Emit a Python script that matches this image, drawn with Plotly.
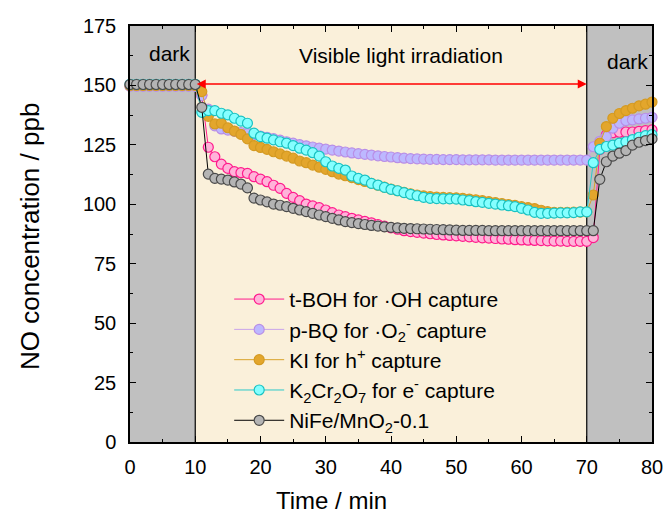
import plotly.graph_objects as go

time_min = list(range(0, 81))

tboh = [150.2]*11 + [
    146.0, 124.0, 120.0, 116.9, 115.1, 113.7, 113.3, 113.0, 111.6, 110.6,
    109.5, 108.0, 106.7, 104.6, 102.9, 101.5, 100.1, 99.3, 98.6, 97.6,
    96.5, 95.5, 94.8, 94.1, 93.4, 92.8, 92.2, 91.5, 90.8, 90.1,
    89.5, 88.9, 88.5, 88.2, 87.9, 87.6, 87.3, 87.1, 86.9, 86.7,
    86.5, 86.3, 86.1, 85.9, 85.8, 85.6, 85.4, 85.3, 85.1, 85.0,
    84.9, 84.8, 84.7, 84.6, 84.5, 84.5, 84.4, 84.4, 84.4, 84.4,
    86.0, 123.0, 129.2, 130.1, 130.3, 130.4, 130.4, 130.7, 131.0, 131.3]

pbq = [149.6]*11 + [
    145.7, 140.0, 133.0, 131.7, 131.2, 130.7, 130.2, 129.7, 129.2, 128.7,
    128.2, 127.6, 127.0, 126.3, 125.7, 125.1, 124.6, 124.1, 123.6, 123.2,
    122.8, 122.4, 122.0, 121.6, 121.3, 121.0, 120.7, 120.4, 120.1, 119.9,
    119.6, 119.4, 119.2, 119.1, 119.0, 118.9, 118.9, 118.8, 118.8, 118.8,
    118.7, 118.7, 118.7, 118.7, 118.7, 118.6, 118.6, 118.6, 118.6, 118.6,
    118.6, 118.6, 118.6, 118.6, 118.6, 118.6, 118.6, 118.6, 118.6, 118.6,
    124.2, 126.5, 128.5, 132.0, 134.1, 135.2, 135.5, 135.9, 136.2, 136.6]

ki = [150.0]*11 + [
    147.4, 137.0, 133.8, 134.1, 132.2, 130.8, 129.4, 127.5, 124.7, 123.9,
    123.1, 122.1, 121.2, 120.3, 119.4, 118.2, 117.5, 116.5, 115.6, 114.7,
    113.7, 112.7, 112.0, 111.2, 110.4, 109.6, 108.8, 108.0, 107.2, 106.4,
    105.7, 105.0, 104.4, 103.9, 103.5, 103.2, 103.0, 102.9, 102.8, 102.7,
    102.5, 102.2, 101.9, 101.5, 101.1, 100.7, 100.3, 99.9, 99.5, 99.0,
    98.6, 98.2, 97.5, 96.9, 96.6, 96.6, 96.6, 96.7, 96.7, 96.8,
    103.9, 125.7, 132.7, 136.2, 138.2, 139.4, 140.4, 141.4, 142.1, 143.0]

k2cr2o7 = [150.5]*11 + [
    138.7, 139.4, 139.4, 138.3, 137.6, 136.2, 135.0, 134.1, 129.9, 128.5,
    127.8, 127.1, 126.3, 125.7, 124.7, 123.6, 122.8, 121.7, 120.3, 117.9,
    116.1, 115.1, 114.4, 111.9, 110.9, 110.2, 108.8, 108.1, 107.1, 106.3,
    105.7, 104.9, 104.2, 103.6, 102.9, 102.5, 102.4, 102.3, 102.3, 102.2,
    101.8, 101.5, 101.1, 100.8, 100.4, 100.1, 99.7, 99.4, 99.0, 98.3,
    97.6, 96.6, 96.2, 96.2, 96.3, 96.4, 96.4, 96.5, 96.8, 96.8,
    117.5, 123.1, 124.3, 124.9, 125.7, 126.3, 127.2, 128.2, 128.9, 129.3]

nife = [150.4]*11 + [
    140.8, 112.7, 110.9, 110.6, 110.2, 109.4, 108.5, 106.9, 102.6, 101.8,
    101.0, 100.1, 99.6, 99.0, 98.3, 97.6, 96.9, 96.2, 95.5, 94.8,
    94.1, 93.4, 92.7, 92.3, 91.9, 91.5, 91.1, 90.8, 90.5, 90.3,
    90.1, 89.9, 89.8, 89.7, 89.6, 89.5, 89.4, 89.3, 89.2, 89.1,
    89.0, 89.0, 89.0, 89.0, 88.9, 88.9, 88.9, 88.9, 88.9, 88.9,
    88.9, 88.9, 88.9, 88.9, 88.9, 88.9, 88.9, 88.9, 88.9, 88.9,
    88.9, 110.5, 117.9, 120.3, 121.5, 122.6, 124.9, 126.1, 126.8, 127.5]

series_names = [
    "t-BOH for ·OH capture",
    "p-BQ for ·O<sub>2</sub><sup>-</sup> capture",
    "KI for h<sup>+</sup> capture",
    "K<sub>2</sub>Cr<sub>2</sub>O<sub>7</sub> for e<sup>-</sup> capture",
    "NiFe/MnO<sub>2</sub>-0.1",
]
series_values = [tboh, pbq, ki, k2cr2o7, nife]
fill_colors = ["#FFB3D9", "#BDB8FF", "#E3A62C", "#85FFFF", "#B4B4B4"]
edge_colors = ["#FF1A8C", "#B98EE6", "#D49A22", "#19C2C2", "#4A4A4A"]
line_colors = ["#FF1A8C", "#C9A3EA", "#D9A22A", "#2CC9C9", "#000000"]

x_ticks = [0, 10, 20, 30, 40, 50, 60, 70, 80]
y_ticks = [0, 25, 50, 75, 100, 125, 150, 175]

FONT = "Arial, Liberation Sans, sans-serif"

fig = go.Figure()
for name, vals, fc, ec, lc in zip(series_names, series_values, fill_colors, edge_colors, line_colors):
    fig.add_trace(go.Scatter(
        x=time_min, y=vals, name=name, mode="lines+markers",
        line=dict(color=lc, width=1),
        marker=dict(size=10, color=fc, line=dict(color=ec, width=1.2)),
        cliponaxis=False,
    ))

# background regions
fig.add_shape(type="rect", xref="x", yref="y", x0=0, x1=10, y0=0, y1=175,
              fillcolor="#C0C0C0", line=dict(width=0), layer="below")
fig.add_shape(type="rect", xref="x", yref="y", x0=10, x1=70, y0=0, y1=175,
              fillcolor="#FAF0DA", line=dict(width=0), layer="below")
fig.add_shape(type="rect", xref="x", yref="y", x0=70, x1=80, y0=0, y1=175,
              fillcolor="#C0C0C0", line=dict(width=0), layer="below")
for xv in [10, 70]:
    fig.add_shape(type="line", xref="x", yref="y", x0=xv, x1=xv, y0=0, y1=175,
                  line=dict(color="black", width=1.2), layer="below")

# texts
fig.add_annotation(x=6, y=163.5, xref="x", yref="y", text="dark", showarrow=False,
                   font=dict(family=FONT, size=21, color="black"))
fig.add_annotation(x=41.5, y=162.5, xref="x", yref="y", text="Visible light irradiation",
                   showarrow=False, font=dict(family=FONT, size=21, color="black"))
fig.add_annotation(x=76.2, y=160, xref="x", yref="y", text="dark", showarrow=False,
                   font=dict(family=FONT, size=21, color="black"))
# double arrow
fig.add_annotation(x=70, y=150.6, ax=10, ay=150.6, xref="x", yref="y", axref="x", ayref="y",
                   text="", showarrow=True, arrowhead=2, arrowside="end+start",
                   arrowsize=1.2, arrowwidth=1.5, arrowcolor="#FF0000")

# axis titles (pixel positions converted below)
fig.add_annotation(x=331, y=500, xref="paper", yref="paper", text="Time / min", showarrow=False,
                   xanchor="center", yanchor="middle",
                   font=dict(family=FONT, size=24, color="black"))
fig.add_annotation(x=30, y=237, xref="paper", yref="paper", text="NO concentration / ppb",
                   showarrow=False, textangle=-90, xanchor="center", yanchor="middle",
                   font=dict(family=FONT, size=26, color="black"))

axis_common = dict(
    showline=True, linecolor="black", linewidth=1.5, mirror="allticks",
    ticks="inside", ticklen=6, tickwidth=1.3, tickcolor="black",
    showgrid=False, zeroline=False,
    tickfont=dict(family=FONT, size=20, color="black"),
)

fig.update_xaxes(
    range=[0, 80], tickvals=x_ticks, ticktext=[str(v) for v in x_ticks],
    minor=dict(ticks="inside", ticklen=3, tickwidth=1.2, dtick=5, tick0=0, tickcolor="black"),
    ticklabelstandoff=6,
    **axis_common,
)
fig.update_yaxes(
    range=[0, 175], tickvals=y_ticks, ticktext=[str(v) for v in y_ticks],
    minor=dict(ticks="inside", ticklen=3, tickwidth=1.2, dtick=12.5, tick0=0, tickcolor="black"),
    ticklabelstandoff=8,
    **axis_common,
)

L, R, T, B = 130, 15, 26, 76
pw, ph = 667 - L - R, 518 - T - B
for ann in fig.layout.annotations:
    if ann.xref == "paper":
        ann.x = (ann.x - L) / pw
        ann.y = (518 - B - ann.y) / ph

fig.update_layout(
    width=667, height=518,
    margin=dict(l=L, r=R, t=T, b=B, autoexpand=False),
    paper_bgcolor="white", plot_bgcolor="white",
    font=dict(family=FONT, color="black"),
    showlegend=True,
    legend=dict(
        x=0.19, y=0.392, xanchor="left", yanchor="top",
        bgcolor="rgba(0,0,0,0)", borderwidth=0,
        font=dict(family=FONT, size=21, color="black"),
        itemwidth=50, tracegroupgap=0,
    ),
)

fig.write_html("out.html")
